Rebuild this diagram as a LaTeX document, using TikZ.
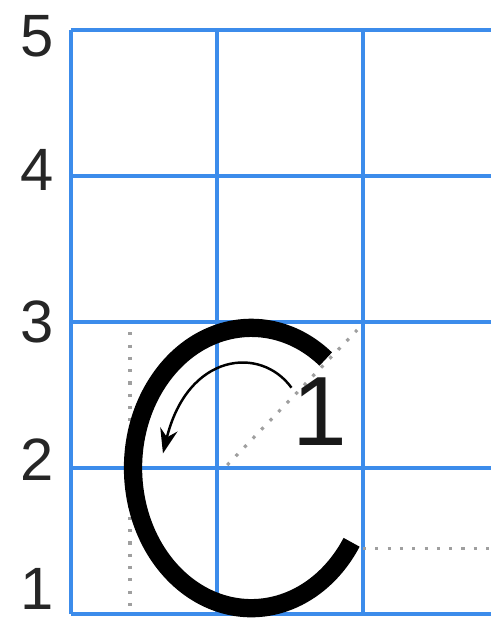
\documentclass[tikz,border=0pt]{standalone}
\usepackage{fontspec}
\setmainfont{Liberation Sans}
\usepackage{xcolor}
\usepackage{tikz}
\usetikzlibrary{arrows.meta, calc}
\definecolor{gridblue}{RGB}{60,140,235}
\tikzstyle{arr}      = [-{Stealth[length=7pt,width=5pt]}, line width=0.7pt]

\begin{document}
\begin{tikzpicture}[x=1.46cm, y=1.46cm,
  gridline/.style={draw=gridblue, line width=1.2pt},
  guide/.style={draw=gray!75, line width=0.9pt, dash pattern=on 0.9pt off 2.6pt},
  stroke/.style={draw=black, line width=5.2pt, line cap=butt},
  rowlbl/.style={font=\fontsize{17}{17}\selectfont, text=black!85, inner sep=0pt},
  numlbl/.style={font=\fontsize{28}{28}\selectfont, text=black!90, inner sep=0pt}
]
  \useasboundingbox (-0.486,-0.034) rectangle (2.870,4.205);

  % grid
  \foreach \y in {0,...,4}
    \draw[gridline] (0,\y) -- (2.9,\y);
  \foreach \x in {0,1,2}
    \draw[gridline] (\x,0) -- (\x,4);

  % row numbers
  \foreach \n/\y in {5/3.96,4/3.04,3/2.00,2/1.06,1/0.17}
    \node[rowlbl] (row\n) at (-0.233,\y) {\n};

  % guide lines
  \coordinate (vtop) at (0.404,1.93);
  \coordinate (vbot) at (0.404,0);
  \coordinate (dlow) at (1.07,1.02);
  \coordinate (dhigh) at (1.96,1.945);
  \coordinate (hleft) at (2.0,0.45);
  \coordinate (hright) at (2.9,0.45);
  \draw[guide] (vtop) -- (vbot);
  \draw[guide] (dlow) -- (dhigh);
  \draw[guide] (hleft) -- (hright);

  % the letter
  \coordinate (cc) at (1.235,1.0);
  \draw[stroke] ($(cc)+(51:0.81 and 0.96)$)
    arc[start angle=51, end angle=328, x radius=0.81, y radius=0.96];

  % stroke order
  \coordinate (astart) at (1.51,1.55);
  \coordinate (aend) at (0.63,1.10);
  \draw[arr] (astart) .. controls (1.3,1.84) and (0.8,1.79) .. (aend);
  \node[numlbl] (first) at (1.705,1.384) {1};
\end{tikzpicture}
\end{document}
